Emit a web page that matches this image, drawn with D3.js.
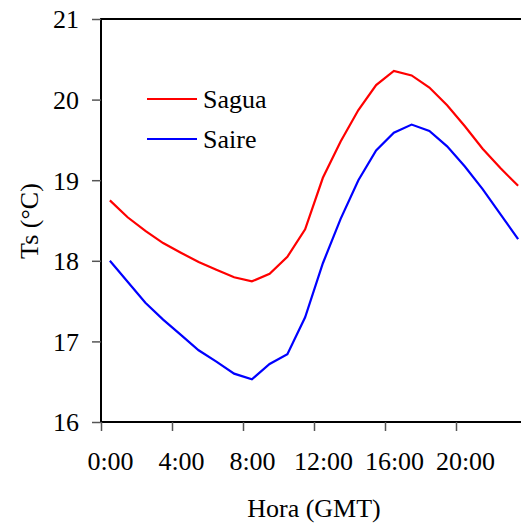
<!DOCTYPE html>
<html>
<head>
<meta charset="utf-8">
<script src="https://cdn.jsdelivr.net/npm/d3@7"></script>
<style>
html,body{margin:0;padding:0;background:#fff;}
svg{display:block;}
</style>
</head>
<body>
<svg id="c" width="521" height="524"></svg>
<script>
const hours = [0.5,1.5,2.5,3.5,4.5,5.5,6.5,7.5,8.5,9.5,10.5,11.5,12.5,13.5,14.5,15.5,16.5,17.5,18.5,19.5,20.5,21.5,22.5,23.5];
const sagua = [18.75,18.54,18.37,18.22,18.10,17.985,17.89,17.795,17.745,17.84,18.05,18.39,19.03,19.48,19.87,20.18,20.355,20.30,20.15,19.93,19.67,19.39,19.15,18.93];
const saire = [18.0,17.74,17.48,17.27,17.08,16.89,16.75,16.60,16.53,16.72,16.84,17.30,17.97,18.52,19.0,19.37,19.59,19.69,19.61,19.42,19.17,18.89,18.58,18.27];
const xTicks = [0,4,8,12,16,20];
const xTickLabels = ["0:00","4:00","8:00","12:00","16:00","20:00"];
const yTicks = [16,17,18,19,20,21];
const seriesNames = ["Sagua","Saire"];
const colors = ["#ff0000","#0000ff"];
const FONT = "'Liberation Serif', 'Times New Roman', Tinos, 'DejaVu Serif', serif";

const svg = d3.select("#c");
const x = d3.scaleLinear().domain([0,24]).range([101,527]);
const y = d3.scaleLinear().domain([16,21]).range([422,19]);

svg.append("rect").attr("x",x(0)).attr("y",y(21)).attr("width",x(24)-x(0)).attr("height",y(16)-y(21))
  .attr("fill","none").attr("stroke","#000").attr("stroke-width",2);

const yAxis = d3.axisLeft(y).tickValues(yTicks).tickSize(9).tickPadding(13).tickFormat(d3.format("d"));
const gy = svg.append("g").attr("transform",`translate(${x(0)},0)`).call(yAxis);
gy.attr("font-family",null).attr("font-size",null);
gy.select(".domain").remove();
gy.selectAll("line").attr("stroke","#555").attr("stroke-width",1.5);
gy.selectAll("text").style("font-family",FONT).style("font-size","26px").attr("fill","#000").attr("dy","0.34em");

const xAxis = d3.axisBottom(x).tickValues(xTicks).tickSize(9).tickPadding(21).tickFormat((d,i)=>xTickLabels[i]);
const gx = svg.append("g").attr("transform",`translate(0,${y(16)})`).call(xAxis);
gx.attr("font-family",null).attr("font-size",null);
gx.select(".domain").remove();
gx.selectAll("line").attr("stroke","#555").attr("stroke-width",1.5);
gx.selectAll("text").style("font-family",FONT).style("font-size","26px").attr("fill","#000").attr("dx",9);

const line = d3.line().x((d,i)=>x(hours[i])).y(d=>y(d));
[sagua,saire].forEach((s,k)=>{
  svg.append("path").datum(s).attr("d",line).attr("fill","none").attr("stroke",colors[k]).attr("stroke-width",2.2);
});

seriesNames.forEach((n,k)=>{
  const ly = 99 + k*40;
  svg.append("line").attr("x1",147).attr("x2",197).attr("y1",ly).attr("y2",ly).attr("stroke",colors[k]).attr("stroke-width",2.2);
  svg.append("text").attr("x",203).attr("y",ly).attr("dy","0.34em").style("font-family",FONT).style("font-size","26px").text(n);
});

svg.append("text").attr("transform","translate(38,221) rotate(-90)").attr("text-anchor","middle").style("font-family",FONT).style("font-size","26px").text("Ts (°C)");
svg.append("text").attr("x",314).attr("y",517).attr("text-anchor","middle").style("font-family",FONT).style("font-size","26px").text("Hora (GMT)");
</script>
</body>
</html>
